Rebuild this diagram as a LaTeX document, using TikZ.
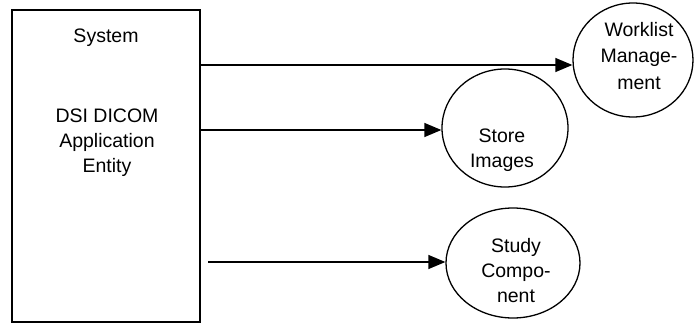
\documentclass[tikz,border=0pt]{standalone}
\usepackage{fontspec}
\setmainfont{Liberation Sans}
\usetikzlibrary{arrows.meta,positioning,shapes.geometric}

\begin{document}
\begin{tikzpicture}[
    x=1pt, y=-1pt,
    box/.style={rectangle, draw, line width=1.3pt, minimum width=188pt, minimum height=312pt, inner sep=0pt},
    usecase/.style={ellipse, draw, line width=1.3pt, inner sep=0pt},
    txt/.style={font=\fontsize{19.5}{25}\selectfont, align=center, inner sep=0pt},
    arrow/.style={-{Triangle[length=17pt, width=14pt]}, line width=1.3pt}
]
    \useasboundingbox (0,0) rectangle (694,324);

    \node[box] (AE) at (106,166) {};
    \node[txt, anchor=base] (AEtitle) at (106,42) {System};
    \node[txt, anchor=base] (AEname) at (107,172) {DSI DICOM\\Application\\Entity};

    \node[usecase, minimum width=120pt, minimum height=114pt] (WL) at (633,60) {};
    \node[usecase, minimum width=126pt, minimum height=118pt] (ST) at (505,128) {};
    \node[usecase, minimum width=134pt, minimum height=110pt] (SC) at (513,263) {};

    % last line baseline
    \node[txt, anchor=base, font=\fontsize{19.5}{26.5}\selectfont] (WLtext) at (639,89) {Worklist\\Manage-\\ment};
    \node[txt, anchor=base] (STtext) at (502,167) {Store\\Images};
    \node[txt, anchor=base] (SCtext) at (516,302) {Study\\Compo-\\nent};

    \coordinate (WLfrom) at (200,65);
    \coordinate (STfrom) at (200,130);
    \coordinate (SCfrom) at (208,262);

    \draw[arrow] (WLfrom) -- (WLfrom -| WL.west);
    \draw[arrow] (STfrom) -- (STfrom -| ST.west);
    \draw[arrow] (SCfrom) -- (SCfrom -| SC.west);
\end{tikzpicture}
\end{document}
